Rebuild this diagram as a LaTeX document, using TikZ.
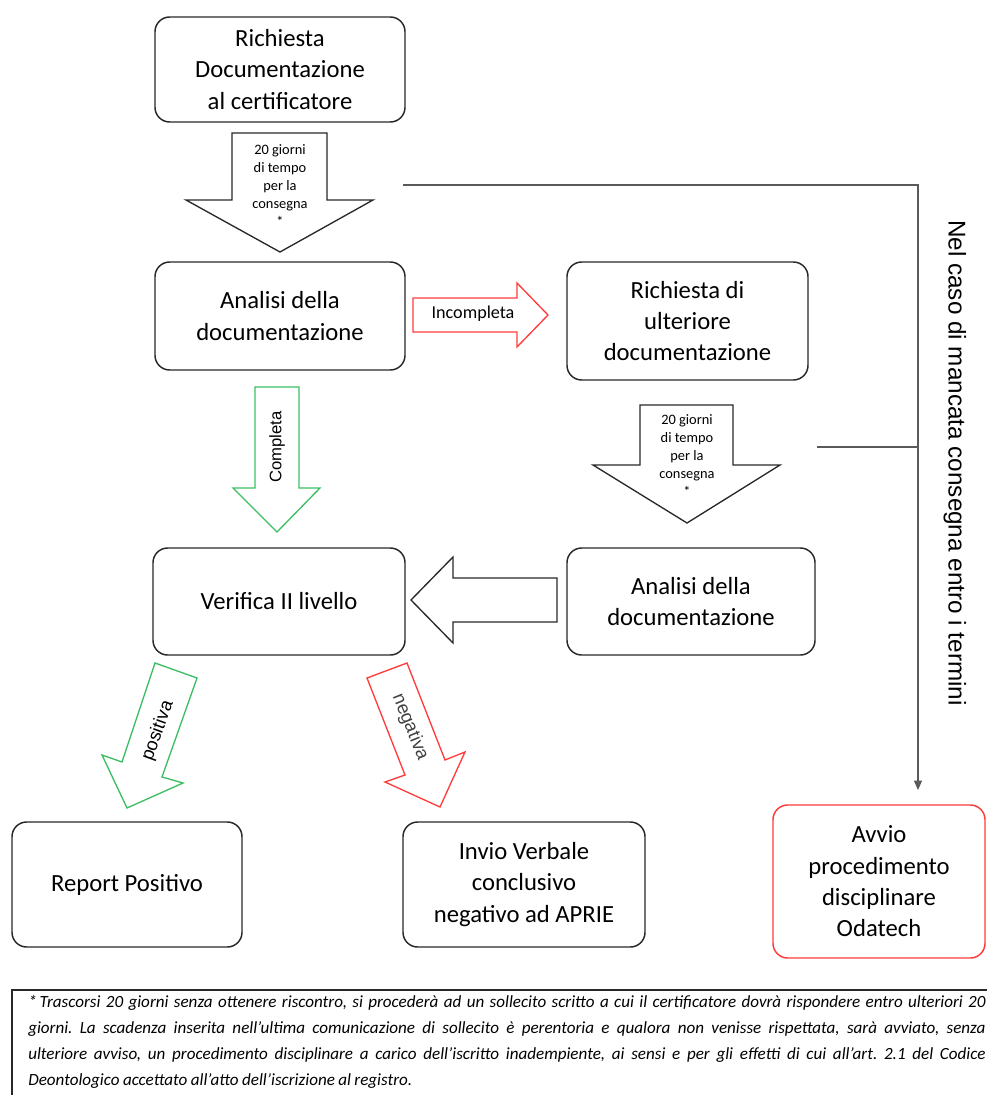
\documentclass[tikz,border=0pt]{standalone}
\usepackage{fontspec}
\setmainfont{Carlito}
\newfontfamily\arialf{Liberation Sans}
\usetikzlibrary{arrows.meta}
\definecolor{boxc}{RGB}{40,40,40}
\definecolor{redc}{RGB}{255,60,60}
\definecolor{greenc}{RGB}{60,190,100}
\definecolor{linec}{RGB}{90,90,90}
\frenchspacing
\begin{document}
\begin{tikzpicture}[x=0.75pt,y=-0.75pt,
  box/.style={draw=boxc, line width=1.1pt, rounded corners=11pt, align=center,
    font=\fontsize{18.5}{23.5}\selectfont, inner sep=0pt},
  barrow/.style={draw=boxc, line width=1pt, line join=miter},
  rarrow/.style={draw=redc, line width=1pt, line join=miter},
  garrow/.style={draw=greenc, line width=1pt, line join=miter},
  smalltxt/.style={align=center, font=\fontsize{10.8}{13.5}\selectfont, inner sep=0pt},
  atxt/.style={font=\arialf\fontsize{12.5}{14}\selectfont, inner sep=0pt},
  conn/.style={draw=linec, line width=0.8pt}
]
\useasboundingbox (0,0) rectangle (987,1095);

% boxes
\node[box, minimum width=187.5pt, minimum height=78.75pt] (b1) at (280,69.5) {Richiesta\\Documentazione\\al certificatore};
\node[box, minimum width=187.5pt, minimum height=81pt] (b2) at (280,316) {Analisi della\\documentazione};
\node[box, minimum width=180.75pt, minimum height=88.5pt] (b3) at (687.5,321) {Richiesta di\\ulteriore\\documentazione};
\node[box, minimum width=189pt, minimum height=80.25pt] (b4) at (279,601.5) {Verifica II livello};
\node[box, minimum width=186pt, minimum height=80.25pt] (b5) at (691,601.5) {Analisi della\\documentazione};
\node[box, minimum width=172.5pt, minimum height=93.75pt] (b6) at (127,884.5) {Report Positivo};
\node[box, minimum width=181.5pt, minimum height=93.75pt] (b7) at (524,884.5) {Invio Verbale\\conclusivo\\negativo ad APRIE};
\node[box, draw=redc, minimum width=159pt, minimum height=114.75pt] (b8) at (879,881.5) {Avvio\\procedimento\\disciplinare\\Odatech};

% block arrows
\draw[barrow] (232,133) -- (327,133) -- (327,200) -- (373,200) -- (280,252) -- (186,200) -- (232,200) -- cycle;
\node[smalltxt] (t1) at (280,186) {20 giorni\\di tempo\\per la\\consegna\\*};

\draw[barrow] (640,405) -- (733,405) -- (733,465) -- (780,465) -- (687,523) -- (593,465) -- (640,465) -- cycle;
\node[smalltxt] (t2) at (687,456) {20 giorni\\di tempo\\per la\\consegna\\*};

\draw[rarrow] (413,298) -- (517,298) -- (517,283) -- (548,315) -- (517,347) -- (517,332) -- (413,332) -- cycle;
\node[inner sep=0pt, font=\fontsize{13.6}{15}\selectfont] (t3) at (473,314) {Incompleta};

\draw[garrow] (255,387) -- (299,387) -- (299,488) -- (320,488) -- (277,532) -- (233,488) -- (255,488) -- cycle;
\node[atxt, rotate=90] (t4) at (277,447) {Completa};

\draw[barrow] (557,578) -- (453,578) -- (453,557) -- (411,600) -- (453,643) -- (453,622) -- (557,622) -- cycle;

\draw[garrow] (155,663) -- (197,678) -- (162,777) -- (183,783) -- (127,808) -- (102,755) -- (122,762) -- cycle;
\node[atxt, font=\arialf\fontsize{13.8}{15}\selectfont, rotate=70] (t5) at (158,731) {positiva};

\draw[rarrow] (367,678) -- (407,663) -- (445,760) -- (465,752) -- (440,807) -- (385,782) -- (405,775) -- cycle;
\node[atxt, font=\arialf\fontsize{13.8}{15}\selectfont, rotate=-68, text=black!75] (t6) at (410,727) {negativa};

% connectors
\coordinate (c1) at (403,185);
\coordinate (c2) at (817,447);
\coordinate (cj) at (918,447);
\coordinate (cend) at (918,790);
\draw[conn, -{Triangle[length=7pt,width=6pt]}] (c1) -| (cend);
\draw[conn] (c2) -- (cj);
\node[font=\arialf\fontsize{18.2}{20}\selectfont, rotate=-90, inner sep=0pt] (vt) at (955,463) {Nel caso di mancata consegna entro i termini};

% footnote
\draw[draw=boxc, line width=0.9pt] (990,990) -- (12,990) -- (12,1100);
\node[anchor=north west, inner sep=0pt, text width=718pt, align=justify,
  font=\itshape\fontsize{12.8}{19.5}\selectfont] (fn) at (28,995)
{\spaceskip=0.2em plus 0.6em minus 0.08em\relax%
*\,Trascorsi 20 giorni senza ottenere riscontro, si procederà ad un sollecito scritto a cui il certificatore dovrà rispondere entro ulteriori 20\linebreak
giorni. La scadenza inserita nell’ultima comunicazione di sollecito è perentoria e qualora non venisse rispettata, sarà avviato, senza\linebreak
ulteriore avviso, un procedimento disciplinare a carico dell’iscritto inadempiente, ai sensi e per gli effetti di cui all'art. 2.1 del Codice\linebreak
Deontologico accettato all'atto dell’iscrizione al registro.};
\end{tikzpicture}
\end{document}
